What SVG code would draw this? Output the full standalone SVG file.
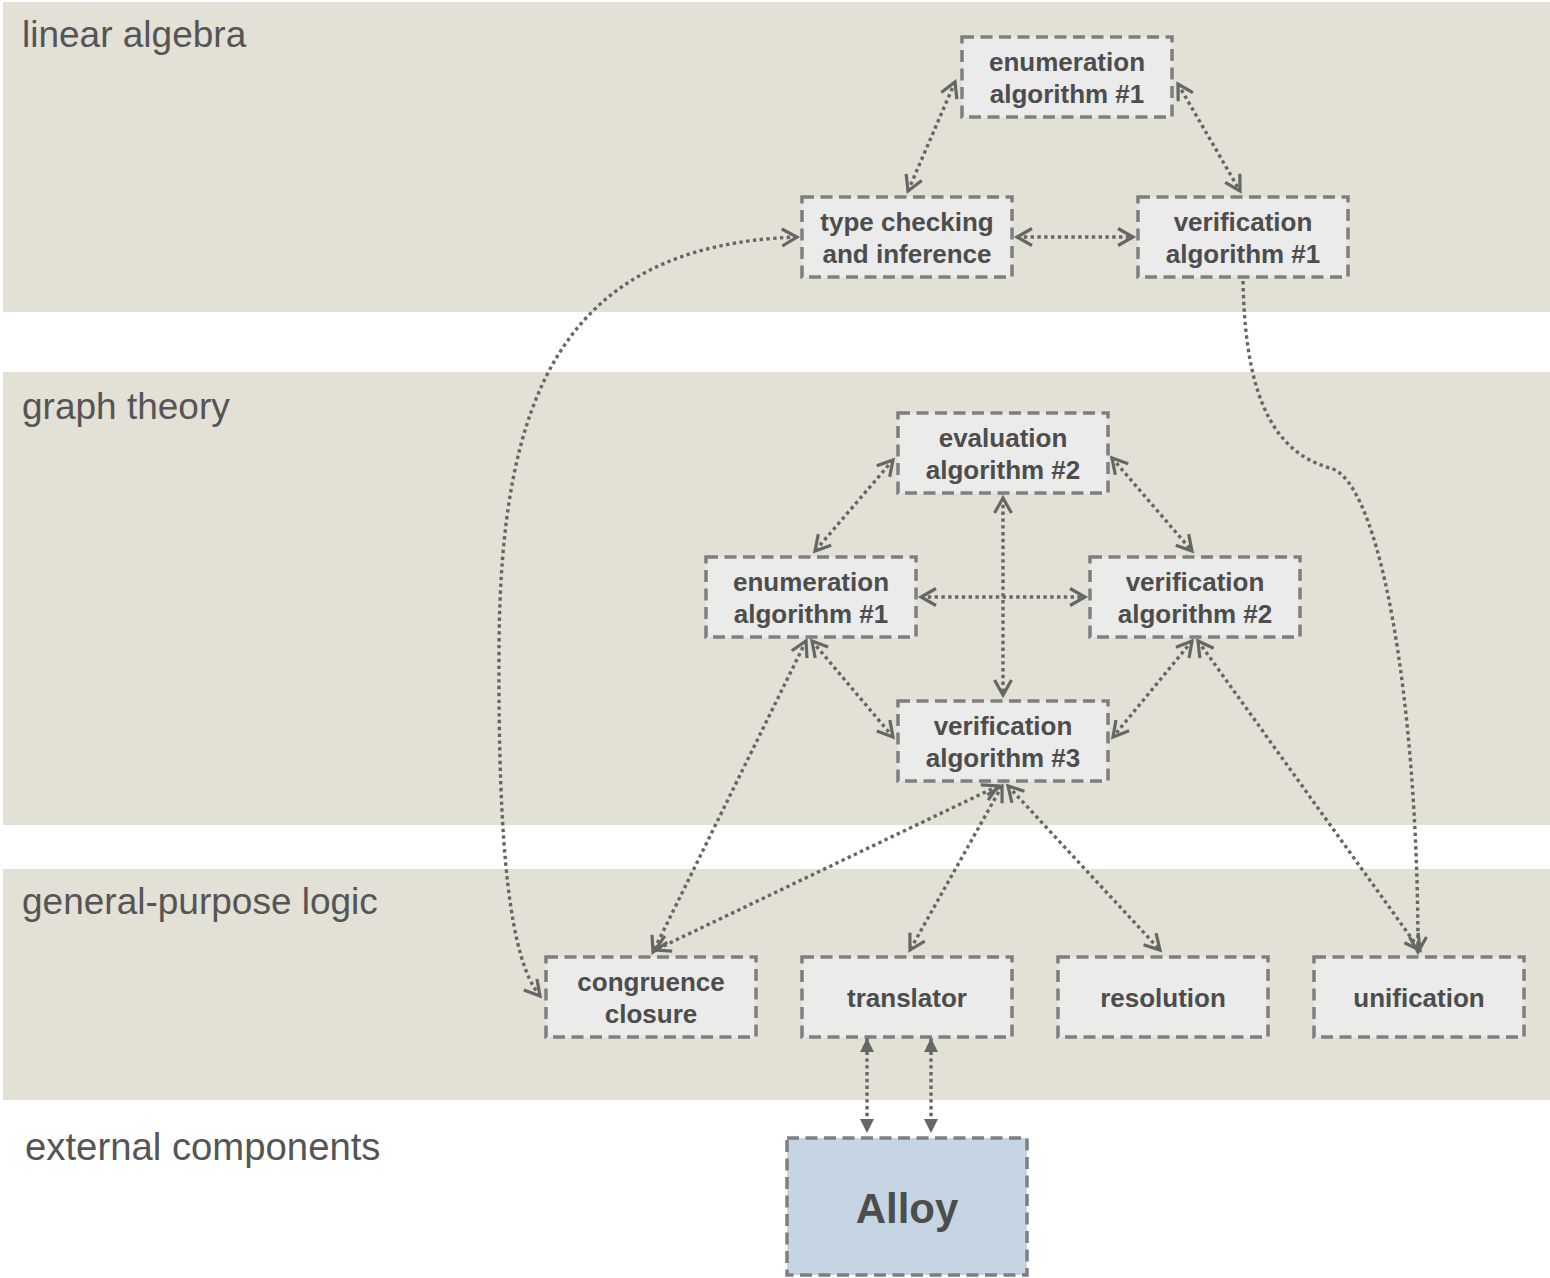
<svg xmlns="http://www.w3.org/2000/svg" width="1550" height="1278" viewBox="0 0 1550 1278">
<defs>
<style>
.band{fill:#e3e0d5}
.blabel{font-family:"Liberation Sans",Arial,sans-serif;font-size:37px;fill:#555555}
.node rect{fill:#ebebeb;stroke:#7f7f7f;stroke-width:3.5;stroke-dasharray:12 6.5}
.node text{font-family:"Liberation Sans",Arial,sans-serif;font-size:26px;font-weight:bold;fill:#4d4d4d;text-anchor:middle}
#alloy rect{fill:#c5d5e3}
#alloy text{font-size:42px}
.conn path{fill:none;stroke:#666666;stroke-width:3.4;stroke-dasharray:3.4 3.4}
.bi{marker-start:url(#open);marker-end:url(#open)}
.uni{marker-end:url(#open)}
.bif{marker-start:url(#solid);marker-end:url(#solid)}
</style>
<marker id="open" markerUnits="userSpaceOnUse" markerWidth="40" markerHeight="40" refX="0" refY="0" orient="auto-start-reverse" overflow="visible">
<path d="M-15,-8.5 L0,0 L-15,8.5" fill="none" stroke="#666666" stroke-width="3.2"/>
</marker>
<marker id="solid" markerUnits="userSpaceOnUse" markerWidth="40" markerHeight="40" refX="0" refY="0" orient="auto-start-reverse" overflow="visible">
<path d="M-14,-7 L0,0 L-14,7 Z" fill="#666666" stroke="none"/>
</marker>
</defs>

<g id="bands">
<rect class="band" x="3" y="2" width="1547" height="310"/>
<rect class="band" x="3" y="372" width="1547" height="453"/>
<rect class="band" x="3" y="869" width="1547" height="231"/>
<text class="blabel" x="22" y="47">linear algebra</text>
<text class="blabel" x="22" y="419">graph theory</text>
<text class="blabel" x="22" y="914">general-purpose logic</text>
<text class="blabel" x="25" y="1160" style="font-size:38.3px">external components</text>
</g>

<g id="connectors" class="conn">
<path class="bi" d="M908,191 L955,82"/>
<path class="bi" d="M1178,84 L1240,191"/>
<path class="bi" d="M1017,237 L1133,237"/>
<path class="bi" d="M797,237 C560,245 500,400 499,650 C498,850 510,960 540,996"/>
<path class="uni" d="M1243,281 C1245,380 1265,450 1330,468 C1380,480 1418,700 1418,952"/>
<path class="bi" d="M893,460 L815,551"/>
<path class="bi" d="M1112,458 L1192,551"/>
<path class="bi" d="M1003,498 L1003,695"/>
<path class="bi" d="M921,597 L1085,597"/>
<path class="bi" d="M812,641 L893,737"/>
<path class="bi" d="M1192,641 L1113,737"/>
<path class="bi" d="M806,641 L653,952"/>
<path class="bi" d="M998,786 L655,950"/>
<path class="bi" d="M1002,786 L910,950"/>
<path class="bi" d="M1008,786 L1160,950"/>
<path class="bi" d="M1198,641 L1420,950"/>
<path class="bif" d="M867,1038 L867,1133"/>
<path class="bif" d="M931,1038 L931,1133"/>
</g>

<g id="la_enum" class="node"><rect x="962" y="37" width="210" height="80"/><text x="1067" y="71">enumeration</text><text x="1067" y="103">algorithm #1</text></g>
<g id="la_type" class="node"><rect x="802" y="197" width="210" height="80"/><text x="907" y="231">type checking</text><text x="907" y="263">and inference</text></g>
<g id="la_verif1" class="node"><rect x="1138" y="197" width="210" height="80"/><text x="1243" y="231">verification</text><text x="1243" y="263">algorithm #1</text></g>

<g id="gt_eval2" class="node"><rect x="898" y="413" width="210" height="80"/><text x="1003" y="447">evaluation</text><text x="1003" y="479">algorithm #2</text></g>
<g id="gt_enum1" class="node"><rect x="706" y="557" width="210" height="80"/><text x="811" y="591">enumeration</text><text x="811" y="623">algorithm #1</text></g>
<g id="gt_verif2" class="node"><rect x="1090" y="557" width="210" height="80"/><text x="1195" y="591">verification</text><text x="1195" y="623">algorithm #2</text></g>
<g id="gt_verif3" class="node"><rect x="898" y="701" width="210" height="80"/><text x="1003" y="735">verification</text><text x="1003" y="767">algorithm #3</text></g>

<g id="gp_congruence" class="node"><rect x="546" y="957" width="210" height="80"/><text x="651" y="991">congruence</text><text x="651" y="1023">closure</text></g>
<g id="gp_translator" class="node"><rect x="802" y="957" width="210" height="80"/><text x="907" y="1007">translator</text></g>
<g id="gp_resolution" class="node"><rect x="1058" y="957" width="210" height="80"/><text x="1163" y="1007">resolution</text></g>
<g id="gp_unification" class="node"><rect x="1314" y="957" width="210" height="80"/><text x="1419" y="1007">unification</text></g>

<g id="alloy" class="node"><rect x="787" y="1138" width="240" height="137"/><text x="907" y="1223">Alloy</text></g>
</svg>
